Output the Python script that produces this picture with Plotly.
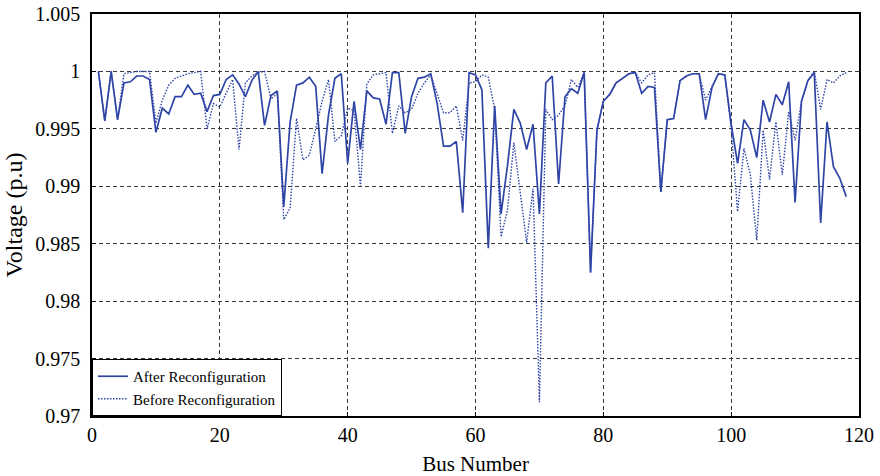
import plotly.graph_objects as go

bus = list(range(1, 119))

v_after = [
    1.0, 0.9957, 1.0, 0.9958, 0.9990, 0.9991, 0.9996, 0.9996, 0.9993, 0.9947,
    0.9968, 0.9963, 0.9978, 0.9978, 0.9988, 0.9980, 0.9981, 0.9965, 0.9979, 0.9980,
    0.9993, 0.9997, 0.9989, 0.9978, 0.9992, 1.0, 0.9953, 0.9979, 0.9983, 0.9882,
    0.9956, 0.9988, 0.9990, 0.9995, 0.9987, 0.9911, 0.9962, 0.9994, 0.9998, 0.9920,
    0.9974, 0.9932, 0.9983, 0.9977, 0.9976, 0.9954, 0.9999, 0.9999, 0.9946, 0.9978,
    0.9994, 0.9995, 0.9998, 0.9972, 0.9935, 0.9935, 0.9939, 0.9877, 0.9999, 0.9997,
    0.9984, 0.9846, 0.9970, 0.9876, 0.9918, 0.9967, 0.9955, 0.9932, 0.9954, 0.9876,
    0.9990, 0.9996, 0.9902, 0.9978, 0.9985, 0.9981, 0.9999, 0.9825, 0.9949, 0.9974,
    0.9980, 0.9990, 0.9994, 0.9998, 0.9999, 0.9981, 0.9987, 0.9986, 0.9895, 0.9958,
    0.9959, 0.9992, 0.9996, 0.9998, 0.9998, 0.9958, 0.9986, 0.9998, 0.9997, 0.9954,
    0.9920, 0.9958, 0.9949, 0.9925, 0.9975, 0.9956, 0.9980, 0.9971, 0.9991, 0.9886,
    0.9974, 0.9992, 0.9999, 0.9868, 0.9956, 0.9917, 0.9907, 0.9891,
]

v_before = [
    1.0, 0.9957, 1.0, 0.9958, 0.9998, 0.9999, 1.0, 1.0, 1.0, 0.9955,
    0.9975, 0.9988, 0.9994, 0.9996, 0.9998, 0.9999, 1.0, 0.9950, 0.9972, 0.9969,
    0.9981, 0.9993, 0.9932, 0.9990, 0.9996, 0.9999, 1.0, 0.9976, 0.9981, 0.9871,
    0.9881, 0.9959, 0.9923, 0.9927, 0.9950, 0.9974, 0.9993, 0.9939, 0.9944, 0.9968,
    0.9966, 0.9900, 0.9989, 0.9997, 0.9998, 0.9999, 0.9946, 0.9970, 0.9964, 0.9967,
    0.9981, 0.9990, 0.9997, 0.9981, 0.9964, 0.9964, 0.9970, 0.9940, 0.9990, 0.9991,
    0.9997, 0.9995, 0.9967, 0.9856, 0.9879, 0.9938, 0.9895, 0.9851, 0.9898, 0.9712,
    0.9967, 0.9958, 0.9962, 0.9970, 0.9993, 0.9986, 0.9999, 0.9825, 0.9949, 0.9974,
    0.9980, 0.9990, 0.9994, 0.9998, 0.9999, 0.9990, 0.9997, 0.9999, 0.9895, 0.9958,
    0.9959, 0.9992, 0.9996, 0.9998, 0.9998, 0.9975, 0.9987, 0.9998, 0.9997, 0.9951,
    0.9878, 0.9933, 0.9910, 0.9853, 0.9949, 0.9906, 0.9956, 0.9910, 0.9965, 0.9940,
    0.9974, 0.9992, 1.0, 0.9967, 0.9993, 0.9990, 0.9996, 0.9999,
]

x_ticks = [0, 20, 40, 60, 80, 100, 120]
y_ticks = [0.97, 0.975, 0.98, 0.985, 0.99, 0.995, 1.0, 1.005]
y_tick_text = ["0.97", "0.975", "0.98", "0.985", "0.99", "0.995", "1", "1.005"]

line_color = "#2f45a6"
font_family = "Liberation Serif, Times New Roman, serif"

fig = go.Figure()
fig.add_trace(go.Scatter(
    x=bus, y=v_after, mode="lines", name="After Reconfiguration",
    line=dict(color=line_color, width=1.7),
))
fig.add_trace(go.Scatter(
    x=bus, y=v_before, mode="lines", name="Before Reconfiguration",
    line=dict(color=line_color, width=1.4, dash="1.5px,1.5px"),
))

axis_common = dict(
    showline=True, linecolor="black", linewidth=1.6, mirror=True,
    ticks="inside", ticklen=4, tickcolor="black",
    showgrid=True, gridcolor="#3a3a3a", gridwidth=1, griddash="4px,3px",
    zeroline=False, automargin=False,
    tickfont=dict(family=font_family, size=20, color="black"),
)

fig.update_layout(
    width=880, height=476,
    margin=dict(l=92, r=21, t=14, b=60),
    paper_bgcolor="white", plot_bgcolor="white",
    font=dict(family=font_family, color="black"),
    xaxis=dict(
        range=[0, 120], tickvals=x_ticks, ticklabelstandoff=0,
        title=dict(text="Bus Number", font=dict(family=font_family, size=21), standoff=14),
        **axis_common,
    ),
    yaxis=dict(
        range=[0.97, 1.005], tickvals=y_ticks, ticktext=y_tick_text,
        ticklabelstandoff=6,
        title=dict(text="Voltage (p.u)", font=dict(family=font_family, size=24), standoff=6),
        **axis_common,
    ),
    legend=dict(
        x=0, y=0, xanchor="left", yanchor="bottom",
        bgcolor="white", bordercolor="black", borderwidth=1,
        font=dict(family=font_family, size=15, color="black"),
        tracegroupgap=0, itemwidth=30,
    ),
    showlegend=True,
)

fig.write_html("out.html")
